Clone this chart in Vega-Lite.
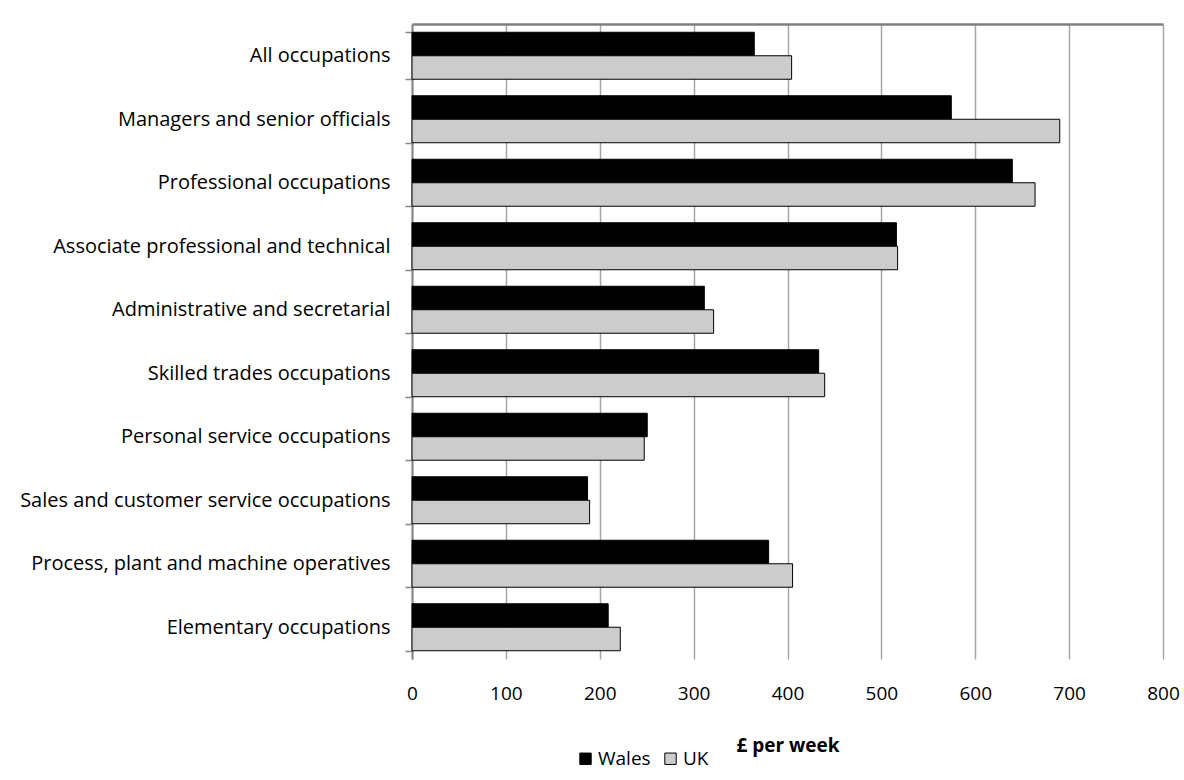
{
  "$schema": "https://vega.github.io/schema/vega-lite/v6.json",
  "autosize": {"type": "none"},
  "padding": {"left": 412, "top": 24, "right": 21, "bottom": 121},
  "width": 751,
  "height": 635,
  "background": "white",
  "config": {
    "font": "Open Sans",
    "view": {"stroke": null},
    "axis": {"labelFont": "Open Sans", "titleFont": "Open Sans"},
    "legend": {"labelFont": "Open Sans"}
  },
  "data": {
    "values": [
      {"occupation": "All occupations", "area": "Wales", "pay": 364.6},
      {"occupation": "All occupations", "area": "UK", "pay": 404.4},
      {"occupation": "Managers and senior officials", "area": "Wales", "pay": 574.5},
      {"occupation": "Managers and senior officials", "area": "UK", "pay": 690},
      {"occupation": "Professional occupations", "area": "Wales", "pay": 639.5},
      {"occupation": "Professional occupations", "area": "UK", "pay": 663.7},
      {"occupation": "Associate professional and technical", "area": "Wales", "pay": 516},
      {"occupation": "Associate professional and technical", "area": "UK", "pay": 517.3},
      {"occupation": "Administrative and secretarial", "area": "Wales", "pay": 311.4},
      {"occupation": "Administrative and secretarial", "area": "UK", "pay": 321.3},
      {"occupation": "Skilled trades occupations", "area": "Wales", "pay": 433.2},
      {"occupation": "Skilled trades occupations", "area": "UK", "pay": 439.6},
      {"occupation": "Personal service occupations", "area": "Wales", "pay": 250.6},
      {"occupation": "Personal service occupations", "area": "UK", "pay": 247.4},
      {"occupation": "Sales and customer service occupations", "area": "Wales", "pay": 187},
      {"occupation": "Sales and customer service occupations", "area": "UK", "pay": 189.2},
      {"occupation": "Process, plant and machine operatives", "area": "Wales", "pay": 379.9},
      {"occupation": "Process, plant and machine operatives", "area": "UK", "pay": 405.4},
      {"occupation": "Elementary occupations", "area": "Wales", "pay": 209},
      {"occupation": "Elementary occupations", "area": "UK", "pay": 221.9}
    ]
  },
  "resolve": {"axis": {"x": "independent"}},
  "layer": [
    {
      "mark": {"type": "bar", "stroke": "#000000", "strokeWidth": 1},
      "encoding": {
        "y": {
          "field": "occupation",
          "type": "nominal",
          "sort": null,
          "scale": {"paddingInner": 0.26, "paddingOuter": 0.13},
          "axis": {
            "title": null,
            "domainColor": "#868686",
            "domainWidth": 2,
            "tickColor": "#868686",
            "tickWidth": 1.5,
            "tickSize": 7,
            "tickBand": "extent",
            "labelPadding": 15,
            "labelFontSize": 20,
            "labelColor": "#000000",
            "labelLimit": 500
          }
        },
        "yOffset": {"field": "area", "type": "nominal", "sort": ["Wales", "UK"], "scale": {"paddingInner": 0, "paddingOuter": 0}},
        "x": {
          "field": "pay",
          "type": "quantitative",
          "scale": {"domain": [0, 800], "nice": false},
          "axis": {
            "orient": "bottom",
            "title": "£ per week",
            "titleFontWeight": "bold",
            "titleFontSize": 19,
            "titleColor": "#000000",
            "titlePadding": 33,
            "values": [0, 100, 200, 300, 400, 500, 600, 700, 800],
            "domain": false,
            "ticks": false,
            "grid": true,
            "gridColor": "#a6a6a6",
            "gridWidth": 1.5,
            "labelPadding": 25,
            "labelFontSize": 19,
            "labelColor": "#000000",
            "labelFlush": false
          }
        },
        "color": {
          "field": "area",
          "type": "nominal",
          "sort": ["Wales", "UK"],
          "scale": {"domain": ["Wales", "UK"], "range": ["#000000", "#cccccc"]},
          "legend": {
            "title": null,
            "orient": "none",
            "legendX": 164,
            "legendY": 725,
            "direction": "horizontal",
            "symbolType": "square",
            "symbolSize": 130,
            "symbolStrokeColor": "#000000",
            "symbolStrokeWidth": 1,
            "labelFontSize": 19,
            "labelColor": "#000000",
            "columnPadding": 10,
            "labelOffset": 3
          }
        }
      }
    },
    {
      "mark": {"type": "rule", "opacity": 0},
      "encoding": {
        "x": {
          "field": "pay",
          "type": "quantitative",
          "axis": {
            "orient": "top",
            "title": null,
            "labels": false,
            "ticks": false,
            "grid": false,
            "domain": true,
            "domainColor": "#7f7f7f",
            "domainWidth": 2.5
          }
        }
      }
    }
  ]
}
